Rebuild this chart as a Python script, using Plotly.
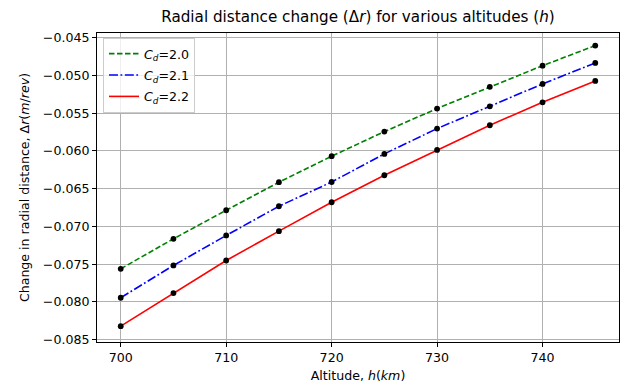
import plotly.graph_objects as go

altitude_km = [700, 705, 710, 715, 720, 725, 730, 735, 740, 745]
dr_cd20 = [-0.07561, -0.07164, -0.06786, -0.06415, -0.06071, -0.05745, -0.05440, -0.05153, -0.04872, -0.04607]
dr_cd21 = [-0.07944, -0.07517, -0.07120, -0.06733, -0.06412, -0.06040, -0.05705, -0.05410, -0.05114, -0.04836]
dr_cd22 = [-0.08320, -0.07883, -0.07451, -0.07063, -0.06680, -0.06323, -0.05987, -0.05661, -0.05357, -0.05074]
series_names = ["<i>C</i><sub><i>d</i></sub>=2.0", "<i>C</i><sub><i>d</i></sub>=2.1", "<i>C</i><sub><i>d</i></sub>=2.2"]
series_colors = ["#008000", "#0000ff", "#ff0000"]
series_dash = ["5.5px,2.5px", "9px,2.5px,1.8px,2.5px", "solid"]
y_ticks = [-0.085, -0.080, -0.075, -0.070, -0.065, -0.060, -0.055, -0.050, -0.045]
y_tick_labels = ["−0.085", "−0.080", "−0.075", "−0.070", "−0.065", "−0.060", "−0.055", "−0.050", "−0.045"]
x_ticks = [700, 710, 720, 730, 740]

font = "DejaVu Sans"
fs = 12.6
fig = go.Figure()
for i, (ys, name, col, dash) in enumerate(zip([dr_cd20, dr_cd21, dr_cd22], series_names, series_colors, series_dash)):
    fig.add_trace(go.Scatter(x=altitude_km, y=ys, mode="lines", name=name, legendgroup="g%d" % i,
                             line=dict(color=col, width=1.6, dash=dash)))
for ys in [dr_cd20, dr_cd21, dr_cd22]:
    fig.add_trace(go.Scatter(x=altitude_km, y=ys, mode="markers", showlegend=False,
                             marker=dict(color="black", size=5.8)))

axis_common = dict(showline=True, linecolor="black", linewidth=1, mirror=True,
                   ticks="outside", ticklen=4, tickcolor="black", tickwidth=1,
                   showgrid=True, gridcolor="#b0b0b0", gridwidth=0.8, zeroline=False,
                   tickfont=dict(family=font, size=fs, color="black"))
fig.update_xaxes(range=[697.75, 747.25], tickvals=x_ticks, **axis_common,
                 title=dict(text="Altitude, <i>h</i>(<i>km</i>)", font=dict(family=font, size=fs, color="black"), standoff=7))
fig.update_yaxes(range=[-0.08530, -0.04440], tickvals=y_ticks, ticktext=y_tick_labels, **axis_common,
                 title=dict(text="Change in radial distance, Δ<i>r</i>(<i>m</i>/<i>rev</i>)", font=dict(family=font, size=fs, color="black"), standoff=10))

fig.update_layout(
    width=624, height=387,
    margin=dict(l=97, r=5, t=33, b=45),
    paper_bgcolor="white", plot_bgcolor="white",
    font=dict(family=font, size=fs, color="black"),
    title=dict(text="Radial distance change (Δ<i>r</i>) for various altitudes (<i>h</i>)",
               x=0.5, xref="paper", xanchor="center", y=0.956, yref="container", yanchor="middle",
               font=dict(family=font, size=15.2, color="black")),
    legend=dict(x=0.0115, y=0.984, xanchor="left", yanchor="top",
                bgcolor="rgba(255,255,255,0.8)", bordercolor="#cccccc", borderwidth=1,
                font=dict(family=font, size=fs, color="black"), tracegroupgap=2),
)
fig.write_html("out.html")
